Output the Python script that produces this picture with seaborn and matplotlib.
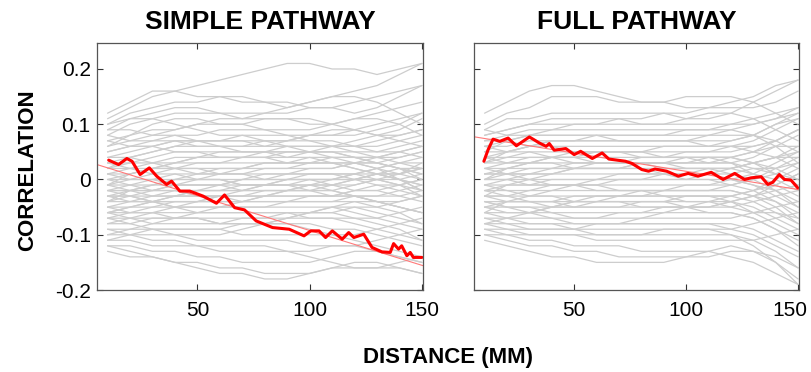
import numpy as np
import pandas as pd
import matplotlib
matplotlib.use("Agg")
import matplotlib.pyplot as plt
import matplotlib.transforms as mtransforms
import seaborn as sns

# ---------------- data ----------------
panel_titles = ["SIMPLE PATHWAY", "FULL PATHWAY"]
x_label = "DISTANCE (MM)"
y_label = "CORRELATION"
x_ticks = [50, 100, 150]
y_ticks = [-0.2, -0.1, 0.0, 0.1, 0.2]
y_tick_labels = ["-0.2", "-0.1", "0", "0.1", "0.2"]

# distances at which the gray (individual) curves are sampled
gray_x = [10, 20, 30, 40, 50, 60, 70, 80, 90, 100, 110, 120, 130, 140, 150]

# gray curves, correlation x 100
gray_simple_x100 = [
    [11, 13, 15, 16, 17, 18, 19, 20, 21, 21, 20, 20, 19, 20, 21],
    [12, 14, 16, 16, 15, 15, 14, 14, 13, 14, 15, 16, 17, 19, 21],
    [10, 12, 13, 14, 14, 15, 15, 14, 14, 13, 13, 12, 13, 15, 17],
    [9, 11, 12, 13, 13, 12, 12, 12, 13, 14, 15, 15, 14, 12, 10],
    [8, 10, 11, 12, 12, 12, 11, 11, 11, 10, 10, 11, 12, 13, 14],
    [7, 8, 10, 11, 11, 10, 10, 9, 9, 9, 10, 11, 11, 10, 8],
    [6, 7, 8, 9, 10, 10, 10, 11, 11, 11, 10, 9, 8, 8, 9],
    [5, 6, 7, 8, 8, 9, 9, 9, 8, 8, 8, 8, 9, 10, 12],
    [4, 5, 6, 7, 7, 7, 8, 8, 8, 7, 7, 6, 6, 7, 8],
    [3, 4, 5, 6, 6, 6, 6, 7, 7, 7, 6, 6, 5, 5, 4],
    [2, 3, 4, 5, 5, 5, 5, 5, 6, 6, 6, 5, 5, 6, 7],
    [1, 2, 3, 4, 4, 4, 4, 4, 4, 5, 5, 5, 4, 3, 2],
    [0, 1, 2, 3, 3, 3, 3, 3, 3, 3, 4, 4, 4, 5, 6],
    [0, 0, 1, 2, 2, 2, 2, 2, 2, 2, 2, 3, 3, 2, 1],
    [-1, 0, 0, 1, 1, 1, 1, 1, 1, 1, 1, 1, 2, 3, 4],
    [-1, -1, 0, 0, 0, 0, 0, 0, 1, 1, 1, 0, 0, -1, -2],
    [-2, -1, -1, 0, 0, 0, -1, -1, 0, 0, 0, 0, 1, 1, 2],
    [-2, -2, -1, -1, -1, -1, -1, -1, -1, 0, 0, 0, -1, -2, -3],
    [-3, -2, -2, -1, -1, -1, 0, 0, 0, 0, -1, -1, 0, 1, 3],
    [-3, -3, -2, -2, -2, -2, -2, -1, -1, -1, -1, -2, -2, -3, -4],
    [-4, -3, -3, -2, -2, -2, -2, -2, -2, -2, -2, -1, 0, 0, 1],
    [-4, -4, -3, -3, -3, -3, -3, -3, -2, -2, -3, -3, -4, -5, -6],
    [-5, -4, -4, -3, -3, -3, -3, -3, -3, -3, -3, -2, -2, -1, 0],
    [-5, -5, -4, -4, -4, -4, -4, -4, -4, -4, -4, -4, -5, -6, -8],
    [-6, -5, -5, -4, -4, -4, -4, -3, -3, -3, -3, -3, -3, -3, -2],
    [-6, -6, -5, -5, -5, -5, -5, -5, -5, -5, -5, -6, -7, -8, -9],
    [-7, -6, -6, -6, -6, -6, -6, -6, -6, -6, -6, -5, -5, -4, -3],
    [-7, -7, -7, -7, -7, -7, -7, -7, -7, -7, -7, -8, -9, -10, -11],
    [-8, -8, -7, -7, -7, -8, -8, -8, -8, -8, -9, -9, -10, -11, -12],
    [-9, -9, -9, -9, -9, -9, -10, -10, -10, -10, -10, -10, -9, -8, -7],
    [-10, -10, -10, -10, -11, -11, -11, -11, -11, -12, -12, -12, -13, -14, -15],
    [-11, -11, -12, -12, -12, -13, -13, -13, -13, -13, -12, -12, -11, -10, -9],
    [-12, -12, -13, -13, -14, -14, -15, -15, -15, -15, -14, -13, -13, -14, -15],
    [-13, -14, -14, -15, -15, -16, -16, -17, -17, -17, -16, -15, -15, -16, -17],
    [-12, -13, -14, -15, -16, -17, -17, -18, -18, -17, -16, -16, -16, -16, -17],
    [-9, -10, -11, -11, -12, -12, -12, -12, -13, -14, -15, -16, -16, -15, -14],
    [1, 1, 2, 2, 3, 3, 4, 4, 5, 5, 5, 4, 3, 2, 0],
    [-2, -2, -2, -1, 0, 1, 2, 3, 3, 3, 3, 2, 1, 0, -1],
    [3, 3, 3, 3, 4, 4, 4, 5, 5, 5, 6, 7, 8, 9, 11],
    [-3, -4, -4, -5, -5, -5, -4, -3, -2, -1, 0, 1, 1, 0, -2],
    [6, 8, 9, 9, 10, 11, 11, 12, 12, 13, 13, 14, 15, 16, 17],
    [5, 6, 6, 7, 7, 6, 6, 6, 7, 8, 9, 9, 8, 7, 6],
    [2, 4, 5, 6, 7, 7, 7, 6, 6, 5, 5, 4, 4, 5, 6],
    [-1, 1, 2, 3, 4, 5, 5, 5, 4, 4, 3, 3, 3, 4, 5],
    [-4, -2, -1, 0, 1, 2, 2, 3, 3, 4, 4, 4, 3, 2, 1],
    [-6, -5, -4, -3, -2, -1, 0, 1, 1, 2, 2, 3, 4, 4, 5],
    [-8, -7, -6, -5, -4, -3, -3, -2, -2, -1, -1, 0, 1, 1, 2],
    [-10, -9, -8, -7, -6, -5, -5, -5, -4, -4, -4, -3, -3, -2, -1],
    [-5, -6, -6, -7, -7, -8, -8, -8, -7, -6, -5, -4, -4, -5, -6],
    [0, -1, -2, -2, -3, -3, -4, -4, -4, -3, -3, -2, -1, -1, 0],
    [3, 2, 1, 1, 0, 0, -1, -1, -1, -2, -2, -3, -4, -5, -6],
    [7, 6, 6, 5, 5, 4, 4, 4, 3, 3, 3, 2, 1, 0, -1],
    [9, 9, 8, 8, 7, 7, 7, 7, 6, 6, 6, 6, 7, 8, 9],
    [-7, -8, -9, -10, -10, -10, -9, -8, -7, -6, -5, -5, -6, -7, -8],
    [-11, -10, -9, -9, -9, -9, -8, -8, -8, -9, -10, -11, -12, -13, -14],
    [4, 4, 3, 2, 2, 1, 1, 2, 2, 3, 3, 3, 2, 0, -2],
    [-2, -3, -4, -4, -4, -3, -2, -1, 0, 1, 1, 1, 0, -1, -3],
    [1, 0, 0, -1, -1, -1, -2, -2, -2, -2, -1, 0, 1, 2, 2],
    [10, 11, 11, 10, 9, 8, 8, 7, 7, 8, 8, 9, 10, 11, 12],
    [-3, -3, -4, -5, -6, -6, -6, -6, -6, -7, -7, -7, -8, -9, -11],
    [2, 2, 2, 2, 1, 1, 1, 0, 0, 0, 0, 1, 2, 3, 3],
    [-6, -7, -8, -8, -8, -8, -7, -7, -6, -6, -6, -7, -7, -6, -5],
    [8, 7, 7, 7, 6, 6, 5, 5, 5, 5, 4, 3, 2, 1, 0],
    [-1, -2, -3, -3, -2, -2, -1, -1, -1, -1, -2, -3, -4, -4, -3],
]

gray_full_x100 = [
    [12, 14, 16, 17, 17, 16, 15, 14, 14, 13, 13, 14, 15, 17, 18],
    [10, 12, 13, 15, 15, 15, 14, 14, 14, 15, 15, 15, 14, 12, 10],
    [9, 11, 11, 12, 12, 12, 12, 12, 12, 11, 11, 12, 14, 16, 18],
    [8, 9, 10, 10, 10, 10, 10, 10, 10, 11, 12, 12, 11, 9, 7],
    [7, 8, 9, 9, 9, 9, 9, 9, 9, 9, 9, 10, 11, 12, 13],
    [6, 7, 8, 8, 8, 8, 8, 8, 8, 8, 8, 8, 8, 7, 5],
    [6, 6, 7, 7, 7, 7, 7, 7, 7, 7, 7, 7, 8, 10, 11],
    [5, 5, 6, 6, 6, 6, 6, 6, 6, 6, 6, 6, 5, 4, 2],
    [4, 4, 5, 5, 5, 5, 5, 5, 5, 5, 5, 5, 6, 7, 9],
    [3, 4, 4, 4, 4, 4, 4, 4, 4, 4, 4, 4, 3, 2, 0],
    [2, 3, 3, 3, 3, 3, 3, 3, 3, 4, 4, 4, 5, 6, 6],
    [1, 2, 2, 2, 2, 2, 2, 2, 2, 2, 2, 2, 1, 0, -2],
    [0, 1, 1, 1, 1, 1, 1, 1, 1, 1, 2, 2, 3, 4, 5],
    [0, 0, 0, 0, 0, 0, 0, 0, 0, 0, 0, 0, -1, -3, -5],
    [-1, -1, -1, -1, -1, 0, 0, 0, 0, 0, 1, 1, 2, 2, 3],
    [-2, -2, -2, -2, -2, -2, -2, -2, -2, -2, -2, -2, -3, -4, -6],
    [-2, -3, -3, -3, -3, -3, -3, -2, -2, -2, -2, -1, 0, 1, 3],
    [-3, -3, -4, -4, -4, -4, -4, -4, -4, -4, -4, -4, -5, -7, -9],
    [-4, -4, -4, -5, -5, -5, -5, -5, -5, -5, -5, -4, -3, -2, -1],
    [-5, -5, -5, -6, -6, -6, -6, -6, -6, -6, -6, -6, -7, -9, -11],
    [-5, -6, -6, -6, -7, -7, -7, -7, -7, -7, -7, -7, -6, -5, -4],
    [-6, -7, -7, -7, -8, -8, -8, -8, -8, -8, -8, -8, -9, -11, -13],
    [-7, -8, -8, -8, -9, -9, -9, -9, -9, -9, -9, -9, -8, -7, -6],
    [-8, -8, -9, -9, -9, -10, -10, -10, -10, -10, -10, -10, -11, -13, -16],
    [-8, -9, -10, -10, -10, -10, -10, -10, -9, -9, -9, -10, -12, -15, -18],
    [-10, -11, -12, -12, -13, -13, -14, -14, -14, -14, -14, -13, -13, -14, -16],
    [-11, -12, -13, -14, -14, -15, -15, -15, -15, -14, -13, -12, -13, -15, -19],
    [-9, -10, -11, -11, -12, -12, -12, -13, -13, -13, -13, -14, -15, -17, -19],
    [4, 5, 6, 7, 7, 7, 7, 7, 7, 7, 8, 9, 10, 11, 12],
    [2, 2, 3, 4, 5, 5, 5, 5, 4, 4, 4, 3, 2, 1, 0],
    [-1, 0, 1, 2, 3, 3, 3, 3, 3, 3, 3, 4, 5, 7, 9],
    [-3, -3, -2, -1, -1, -1, -2, -2, -3, -3, -3, -3, -2, 0, 2],
    [-4, -5, -5, -5, -5, -4, -3, -3, -3, -3, -3, -4, -6, -8, -10],
    [1, 1, 1, 1, 2, 2, 2, 3, 3, 3, 3, 3, 1, -1, -3],
    [-6, -6, -6, -5, -4, -4, -4, -4, -4, -5, -5, -5, -4, -3, -2],
    [8, 9, 10, 11, 11, 11, 11, 10, 10, 10, 10, 10, 10, 11, 13],
    [5, 7, 8, 9, 10, 10, 11, 11, 12, 12, 13, 13, 13, 14, 16],
    [3, 5, 6, 7, 7, 8, 8, 8, 8, 9, 9, 9, 8, 6, 3],
    [0, 2, 3, 4, 4, 5, 5, 5, 6, 6, 6, 7, 8, 10, 12],
    [-3, -1, 0, 1, 2, 2, 2, 3, 3, 3, 4, 4, 3, 1, -1],
    [-6, -4, -3, -2, -1, -1, 0, 0, 1, 1, 1, 2, 3, 4, 6],
    [-8, -7, -6, -5, -4, -3, -3, -3, -2, -2, -2, -2, -3, -5, -8],
    [-7, -7, -8, -8, -8, -8, -8, -7, -6, -5, -5, -4, -3, -1, 1],
    [6, 5, 5, 4, 4, 3, 3, 3, 2, 2, 2, 1, 0, -2, -5],
    [2, 1, 0, -1, -1, -2, -2, -2, -2, -1, -1, 0, 1, 3, 5],
    [-1, -2, -3, -3, -4, -4, -4, -5, -5, -5, -6, -6, -7, -9, -12],
    [7, 7, 6, 6, 5, 5, 5, 4, 4, 4, 3, 3, 4, 6, 8],
    [-4, -5, -6, -7, -7, -7, -6, -6, -5, -5, -4, -3, -2, -1, 1],
    [-9, -9, -9, -9, -9, -8, -8, -8, -8, -8, -8, -9, -10, -12, -14],
    [4, 3, 3, 3, 2, 2, 2, 2, 1, 1, 1, 0, -1, -2, -4],
    [1, 1, 2, 2, 2, 3, 3, 4, 4, 5, 5, 6, 7, 9, 11],
    [-2, -1, -1, 0, 0, 0, 1, 1, 1, 0, 0, -1, -2, -4, -7],
    [9, 8, 8, 8, 8, 8, 7, 7, 7, 7, 6, 6, 6, 7, 9],
    [-5, -4, -4, -4, -3, -3, -3, -3, -3, -4, -4, -5, -6, -6, -7],
    [-10, -10, -10, -10, -10, -11, -11, -11, -11, -11, -11, -11, -11, -10, -9],
    [3, 3, 4, 4, 3, 3, 3, 3, 3, 2, 2, 2, 3, 4, 4],
    [-3, -4, -4, -4, -5, -5, -5, -4, -4, -3, -3, -3, -4, -6, -8],
    [0, 0, -1, -1, -1, -1, -1, -1, -1, -1, -1, -1, 0, 2, 4],
]

# highlighted (red) curves
red_simple_x = [10.5, 14.9, 18.6, 20.9, 24.5, 28.6, 31.9, 36.3, 38.5, 42.2, 46.6, 52.5,
                58.5, 62.1, 66.6, 71.0, 76.2, 83.5, 90.9, 97.5, 100.5, 104.2, 107.1,
                110.1, 114.5, 117.4, 119.7, 124.1, 127.8, 132.2, 135.9, 137.4, 139.6,
                141.0, 143.3, 144.8, 146.2, 147.7, 150.0]
red_simple_y = [0.035, 0.027, 0.038, 0.033, 0.009, 0.021, 0.006, -0.009, -0.003, -0.021,
                -0.021, -0.030, -0.043, -0.028, -0.051, -0.055, -0.075, -0.087, -0.090,
                -0.102, -0.093, -0.093, -0.105, -0.093, -0.108, -0.096, -0.105, -0.099,
                -0.123, -0.131, -0.132, -0.116, -0.126, -0.120, -0.138, -0.132, -0.141,
                -0.141, -0.141]

red_full_x = [9.7, 11.6, 13.8, 16.8, 20.5, 24.2, 30.0, 34.5, 37.5, 38.9, 41.1, 46.3, 50.0,
              52.9, 58.1, 62.5, 65.5, 72.9, 75.8, 80.2, 83.2, 86.1, 91.3, 96.5, 100.9,
              105.3, 111.2, 116.5, 121.7, 126.1, 129.0, 133.5, 136.5, 138.7, 141.6, 143.9,
              146.8, 149.8]
red_full_y = [0.033, 0.054, 0.073, 0.069, 0.075, 0.061, 0.077, 0.066, 0.060, 0.065, 0.053,
              0.056, 0.045, 0.051, 0.038, 0.048, 0.037, 0.033, 0.029, 0.018, 0.015, 0.019,
              0.015, 0.006, 0.011, 0.006, 0.013, 0.000, 0.011, 0.000, 0.003, 0.005, -0.009,
              -0.005, 0.009, 0.000, -0.001, -0.015]

# linear fits of the red curves (intercept, slope per mm)
fit_simple = (0.0337, -0.00126)
fit_full = (0.0808, -0.00066)

x_limits = (5.3, 150.5)
y_limits = (-0.2, 0.247)

# ---------------- style ----------------
sns.set_theme(style="white")
plt.rcParams["font.family"] = ["Liberation Sans", "DejaVu Sans"]
plt.rcParams["text.color"] = "black"
plt.rcParams["axes.labelcolor"] = "black"
plt.rcParams["xtick.color"] = "black"
plt.rcParams["ytick.color"] = "black"

fig = plt.figure(figsize=(8.11, 3.72), dpi=100)
ax_l = fig.add_axes([0.1196, 0.2204, 0.402, 0.664])
ax_r = fig.add_axes([0.5845, 0.2204, 0.401, 0.664])

gray_color = "#cdcdcd"
red_color = "#ff0000"
fit_color = "#ff7a7a"


def long_frame(curves):
    rows = []
    for i, c in enumerate(curves):
        for xv, yv in zip(gray_x, c):
            rows.append({"dist": xv, "corr": yv / 100.0, "unit": i})
    return pd.DataFrame(rows)


panels = [
    (ax_l, gray_simple_x100, red_simple_x, red_simple_y, fit_simple, panel_titles[0]),
    (ax_r, gray_full_x100, red_full_x, red_full_y, fit_full, panel_titles[1]),
]

for ax, gray, rx, ry, fit, title in panels:
    df = long_frame(gray)
    sns.lineplot(data=df, x="dist", y="corr", units="unit", estimator=None,
                 color=gray_color, linewidth=0.9, ax=ax, legend=False)
    fx = np.array(x_limits)
    sns.lineplot(x=fx, y=fit[0] + fit[1] * fx, color=fit_color, linewidth=0.8, ax=ax)
    sns.lineplot(x=rx, y=ry, color=red_color, linewidth=2.2, ax=ax)
    ax.set_xlim(*x_limits)
    ax.set_ylim(*y_limits)
    ax.set_xticks(x_ticks)
    ax.set_xticklabels([str(t) for t in x_ticks])
    ax.set_yticks(y_ticks)
    ax.set_xlabel("")
    ax.set_ylabel("")
    ax.tick_params(direction="in", top=True, right=True, bottom=True, left=True,
                   length=4, width=0.8, color="#333333", labelcolor="black",
                   labelsize=15)
    ax.tick_params(axis="x", pad=8)
    ax.tick_params(axis="y", pad=4.5)
    for s in ax.spines.values():
        s.set_visible(True)
        s.set_color("#555555")
        s.set_linewidth(0.9)
    ax.set_title(title, fontsize=19, fontweight="bold", pad=10, color="black")

ax_l.set_yticklabels(y_tick_labels)
ax_r.set_yticklabels([])

# keep the last x tick label of the right panel inside the figure
last_lbl = ax_r.get_xticklabels()[-1]
last_lbl.set_transform(last_lbl.get_transform() +
                       mtransforms.ScaledTranslation(-6 / 72, 0, fig.dpi_scale_trans))

fig.text(0.034, 0.543, y_label, rotation=90, ha="center", va="center",
         fontsize=16, fontweight="bold", color="black")
fig.text(0.553, 0.040, x_label, ha="center", va="center",
         fontsize=16, fontweight="bold", color="black")

fig.savefig("out.png", dpi=100)
